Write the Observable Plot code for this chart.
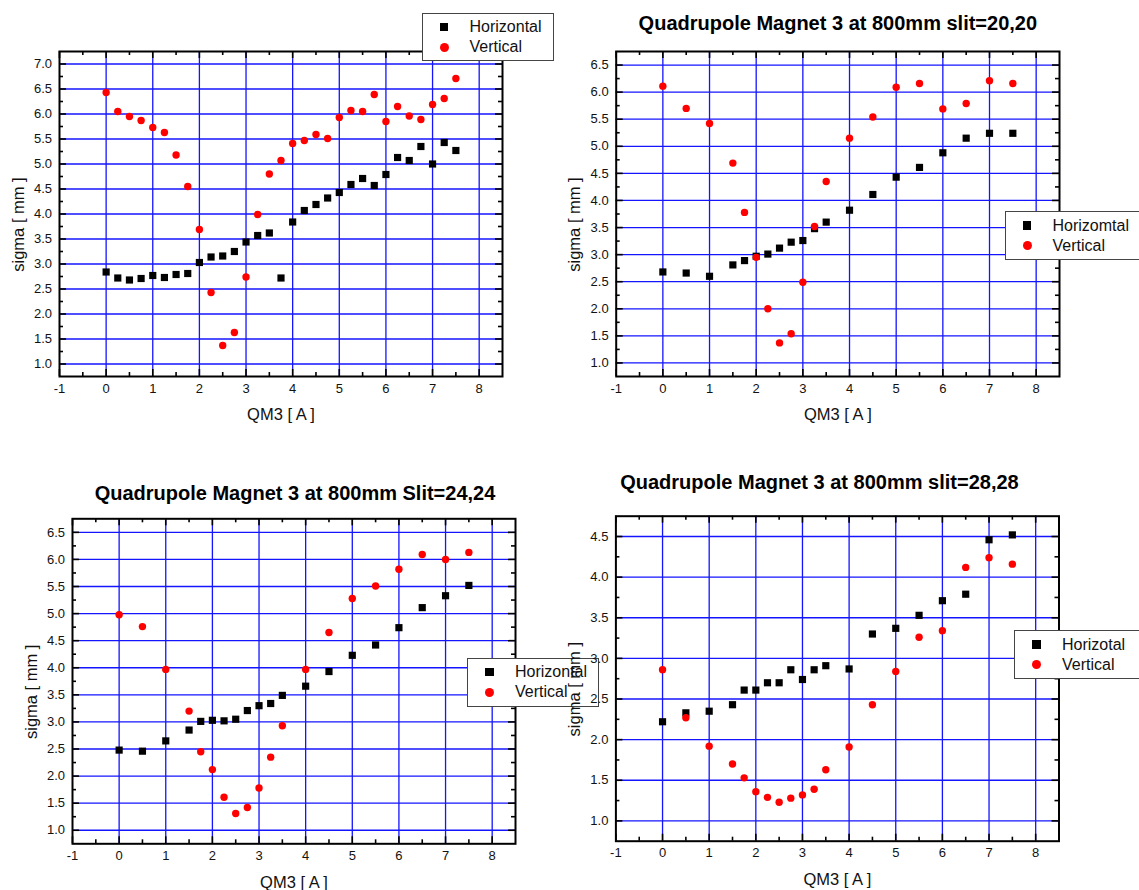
<!DOCTYPE html>
<html>
<head>
<meta charset="utf-8">
<script src="https://cdn.jsdelivr.net/npm/d3@7"></script>
<script src="https://cdn.jsdelivr.net/npm/@observablehq/plot@0.6"></script>
<style>
  html, body { margin: 0; padding: 0; background: #fff; overflow: hidden; }
  #root { position: relative; width: 1139px; height: 890px; overflow: hidden; background: #fff;
          font-family: "Liberation Sans", Arial, sans-serif; }
  .pan { position: absolute; }
  .leg { position: absolute; background: #fff; border: 1.5px solid #444; box-sizing: border-box; }
  .leg .mk { position: absolute; }
  .leg .lt { position: absolute; font-size: 16px; line-height: 20px; color: #111; white-space: nowrap; }
</style>
</head>
<body>
<div id="root"></div>
<script>
// ---------- data ----------
const p1X = [0,0.25,0.5,0.75,1,1.25,1.5,1.75,2,2.25,2.5,2.75,3,3.25,3.5,3.75,4,4.25,4.5,4.75,5,5.25,5.5,5.75,6,6.25,6.5,6.75,7,7.25,7.5];
const p1H = [2.84,2.72,2.68,2.71,2.77,2.73,2.79,2.81,3.03,3.14,3.16,3.25,3.44,3.57,3.62,2.72,3.84,4.07,4.19,4.32,4.43,4.59,4.71,4.57,4.79,5.13,5.07,5.35,5.00,5.43,5.27];
const p1V = [6.43,6.05,5.95,5.87,5.73,5.63,5.18,4.55,3.69,2.43,1.37,1.63,2.74,3.99,4.80,5.07,5.41,5.47,5.59,5.51,5.93,6.07,6.05,6.39,5.85,6.15,5.96,5.89,6.19,6.31,6.71];

const p2X = [0,0.5,1,1.5,1.75,2,2.25,2.5,2.75,3,3.25,3.5,4,4.5,5,5.5,6,6.5,7,7.5];
const p2H = [2.68,2.66,2.60,2.81,2.89,2.97,3.01,3.12,3.23,3.26,3.48,3.60,3.82,4.11,4.43,4.61,4.88,5.15,5.24,5.24];
const p2V = [6.11,5.70,5.42,4.69,3.78,2.95,2.00,1.37,1.54,2.49,3.52,4.35,5.15,5.54,6.09,6.16,5.69,5.79,6.21,6.16];

const p3X = [0,0.5,1,1.5,1.75,2,2.25,2.5,2.75,3,3.25,3.5,4,4.5,5,5.5,6,6.5,7,7.5];
const p3H = [2.48,2.46,2.65,2.85,3.01,3.03,3.02,3.05,3.21,3.30,3.34,3.49,3.66,3.93,4.23,4.42,4.74,5.11,5.33,5.52];
const p3V = [4.98,4.76,3.97,3.20,2.45,2.12,1.61,1.31,1.42,1.78,2.35,2.93,3.97,4.65,5.28,5.51,5.82,6.09,6.00,6.13];

const p4X = [0,0.5,1,1.5,1.75,2,2.25,2.5,2.75,3,3.25,3.5,4,4.5,5,5.5,6,6.5,7,7.5];
const p4H = [2.22,2.33,2.35,2.43,2.61,2.61,2.70,2.70,2.86,2.74,2.86,2.91,2.87,3.30,3.37,3.53,3.71,3.79,4.46,4.52];
const p4V = [2.86,2.27,1.92,1.70,1.53,1.36,1.29,1.23,1.28,1.32,1.39,1.63,1.91,2.43,2.84,3.26,3.34,4.12,4.24,4.16];

// ---------- ticks / labels ----------
const xTickLabels = [-1,0,1,2,3,4,5,6,7,8];
const xGrid = [0,1,2,3,4,5,6,7,8];
const xMinor = [-0.5,0.5,1.5,2.5,3.5,4.5,5.5,6.5,7.5];
const yTicks1 = [1.0,1.5,2.0,2.5,3.0,3.5,4.0,4.5,5.0,5.5,6.0,6.5,7.0];
const yMinor1 = [1.25,1.75,2.25,2.75,3.25,3.75,4.25,4.75,5.25,5.75,6.25,6.75];
const yTicks2 = [1.0,1.5,2.0,2.5,3.0,3.5,4.0,4.5,5.0,5.5,6.0,6.5];
const yMinor2 = [1.25,1.75,2.25,2.75,3.25,3.75,4.25,4.75,5.25,5.75,6.25];
const yTicks4 = [1.0,1.5,2.0,2.5,3.0,3.5,4.0,4.5];
const yMinor4 = [1.25,1.75,2.25,2.75,3.25,3.75,4.25];

const xLabel = "QM3 [ A ]";
const yLabel = "sigma [ mm ]";
const titles = ["", "Quadrupole Magnet 3 at 800mm slit=20,20", "Quadrupole Magnet 3 at 800mm Slit=24,24", "Quadrupole Magnet 3 at 800mm slit=28,28"];
const legendH = ["Horizontal", "Horizomtal", "Horizontal", "Horizotal"];
const legendV = ["Vertical", "Vertical", "Vertical", "Vertical"];

const BLUE = "#1414ff";
const root = document.getElementById("root");

function panel(o) {
  const fw = o.width - o.ml - o.mr, fh = o.height - o.mt - o.mb;
  const H = o.xs.map((x, i) => ({x, y: o.h[i]}));
  const V = o.xs.map((x, i) => ({x, y: o.v[i]}));
  const marks = [
    Plot.ruleX(xGrid, {x: d => d, stroke: BLUE, strokeWidth: 1.3}),
    Plot.ruleY(o.yTicks, {y: d => d, stroke: BLUE, strokeWidth: 1.3}),
    // inward ticks: bottom & top
    Plot.tickX(xTickLabels, {x: d => d, insetTop: fh - 7, stroke: "#000", strokeWidth: 1.6}),
    Plot.tickX(xMinor, {x: d => d, insetTop: fh - 4, stroke: "#000", strokeWidth: 1.6}),
    Plot.tickX(xTickLabels, {x: d => d, insetBottom: fh - 7, stroke: "#000", strokeWidth: 1.6}),
    Plot.tickX(xMinor, {x: d => d, insetBottom: fh - 4, stroke: "#000", strokeWidth: 1.6}),
    // inward ticks: left & right
    Plot.tickY(o.yTicks, {y: d => d, insetRight: fw - 7, stroke: "#000", strokeWidth: 1.6}),
    Plot.tickY(o.yMinor, {y: d => d, insetRight: fw - 4, stroke: "#000", strokeWidth: 1.6}),
    Plot.tickY(o.yTicks, {y: d => d, insetLeft: fw - 7, stroke: "#000", strokeWidth: 1.6}),
    Plot.tickY(o.yMinor, {y: d => d, insetLeft: fw - 4, stroke: "#000", strokeWidth: 1.6}),
    Plot.frame({stroke: "#000", strokeWidth: 2}),
    Plot.dot(H, {x: "x", y: "y", symbol: "square", r: 4.05, fill: "#000", stroke: "none"}),
    Plot.dot(V, {x: "x", y: "y", symbol: "circle", r: 3.7, fill: "#ff0000", stroke: "none"}),
    Plot.text(xTickLabels, {x: d => d, text: d => String(d), frameAnchor: "bottom", lineAnchor: "middle", textAnchor: "middle", dy: 12, fontSize: 13, fill: "#111"}),
    Plot.text(o.yTicks, {y: d => d, text: d => d.toFixed(1), frameAnchor: "left", lineAnchor: "middle", textAnchor: "end", dx: -7.5, fontSize: 13, fill: "#111"}),
    Plot.text([xLabel], {frameAnchor: "bottom", lineAnchor: "middle", textAnchor: "middle", dy: 38.5, fontSize: 16.5, fill: "#111"}),
    Plot.text([yLabel], {frameAnchor: "left", lineAnchor: "middle", textAnchor: "middle", rotate: -90, dx: -41, dy: 10.5, fontSize: 16.5, fill: "#111"})
  ];
  if (o.title) {
    marks.push(Plot.text([o.title], {frameAnchor: "top", lineAnchor: "middle", textAnchor: "middle", dy: o.tdy, dx: o.tdx || 0, fontSize: 20, fontWeight: "bold", fill: "#000"}));
  }
  const svg = Plot.plot({
    width: o.width, height: o.height,
    marginLeft: o.ml, marginRight: o.mr, marginTop: o.mt, marginBottom: o.mb,
    x: {type: "linear", domain: [-1, 8.5], axis: null},
    y: {type: "linear", domain: o.yDomain, axis: null},
    style: {fontFamily: "'Liberation Sans', Arial, sans-serif", background: "transparent", overflow: "visible"},
    marks
  });
  const wrap = document.createElement("div");
  wrap.className = "pan";
  wrap.style.left = o.left + "px";
  wrap.style.top = o.top + "px";
  wrap.style.width = o.width + "px";
  wrap.style.height = o.height + "px";
  wrap.appendChild(svg);
  root.appendChild(wrap);
}

function legend(o, hText, vText) {
  const d = document.createElement("div");
  d.className = "leg";
  d.style.left = o.left + "px";
  d.style.top = o.top + "px";
  d.style.width = o.w + "px";
  d.style.height = o.h + "px";
  const rows = [{t: hText, sq: true, cy: 13.6}, {t: vText, sq: false, cy: 33.8}];
  rows.forEach(r => {
    const m = document.createElement("div");
    m.className = "mk";
    const s = r.sq ? 8.5 : 9;
    m.style.width = s + "px"; m.style.height = s + "px";
    m.style.left = (21.5 - s / 2) + "px";
    m.style.top = (r.cy - s / 2) + "px";
    m.style.background = r.sq ? "#000" : "#ff0000";
    if (!r.sq) m.style.borderRadius = "50%";
    d.appendChild(m);
    const t = document.createElement("div");
    t.className = "lt";
    t.textContent = r.t;
    t.style.left = "47px";
    t.style.top = (r.cy - 10) + "px";
    d.appendChild(t);
  });
  root.appendChild(d);
}

// Panel 1 (top-left)
panel({left: 0, top: 0, width: 560, height: 440, ml: 59, mr: 58, mt: 51, mb: 64,
       yDomain: [0.75, 7.25], yTicks: yTicks1, yMinor: yMinor1, xs: p1X, h: p1H, v: p1V, title: titles[0]});
legend({left: 421.5, top: 12.5, w: 132, h: 48.5}, legendH[0], legendV[0]);

// Panel 2 (top-right)
panel({left: 570, top: 0, width: 569, height: 440, ml: 45.7, mr: 80, mt: 51, mb: 64,
       yDomain: [0.75, 6.75], yTicks: yTicks2, yMinor: yMinor2, xs: p2X, h: p2H, v: p2V, title: titles[1], tdy: -28, tdx: 0});
legend({left: 1004.5, top: 211, w: 200, h: 48.5}, legendH[1], legendV[1]);

// Panel 3 (bottom-left)
panel({left: 0, top: 440, width: 560, height: 450, ml: 72, mr: 45, mt: 78.3, mb: 46.7,
       yDomain: [0.75, 6.75], yTicks: yTicks2, yMinor: yMinor2, xs: p3X, h: p3H, v: p3V, title: titles[2], tdy: -25, tdx: 1});
legend({left: 467, top: 657.5, w: 132, h: 49}, legendH[2], legendV[2]);

// Panel 4 (bottom-right)
panel({left: 560, top: 440, width: 579, height: 450, ml: 55.4, mr: 80.5, mt: 75.7, mb: 49.3,
       yDomain: [0.75, 4.75], yTicks: yTicks4, yMinor: yMinor4, xs: p4X, h: p4H, v: p4V, title: titles[3], tdy: -34, tdx: -18});
legend({left: 1014, top: 630, w: 200, h: 48.5}, legendH[3], legendV[3]);
</script>
</body>
</html>
